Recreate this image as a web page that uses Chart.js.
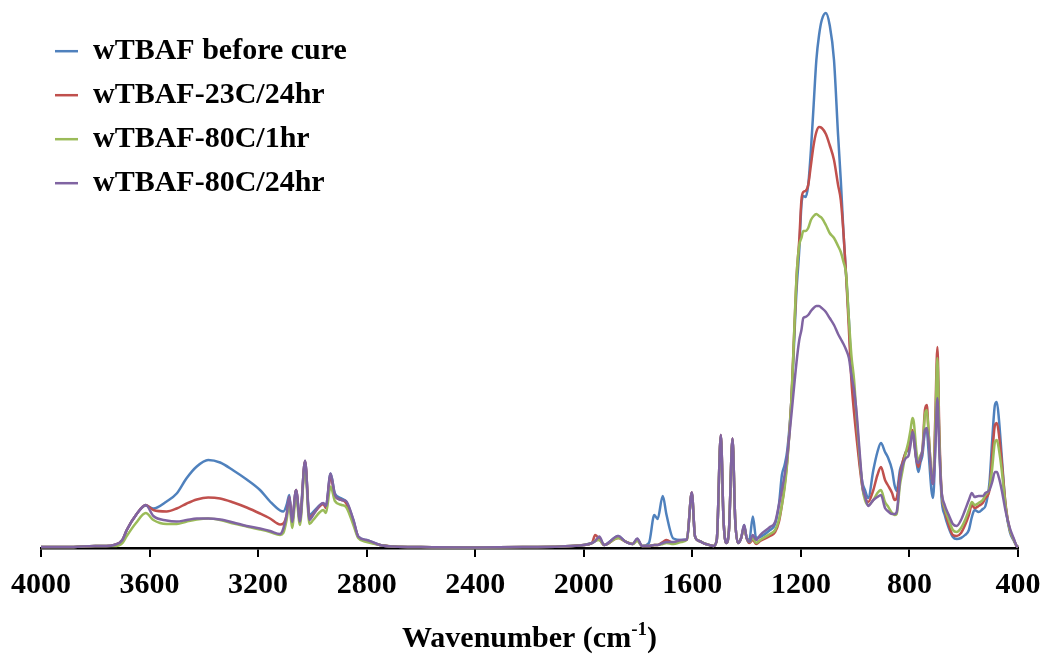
<!DOCTYPE html>
<html>
<head>
<meta charset="utf-8">
<script src="https://cdn.jsdelivr.net/npm/chart.js@4.4.1/dist/chart.umd.min.js"></script>
<style>
    body { margin: 0; background: #fff; }
    #wrap { width: 1045px; height: 656px; }
</style>
</head>
<body>
<div id="wrap"><canvas id="ftirChart"></canvas></div>
<script>
// wavenumber grid (cm-1)
const wavenumbers = [
    4000, 3900, 3800, 3760, 3730, 3700, 3684, 3650, 3614, 3586,
    3537, 3500, 3463, 3426, 3384, 3340, 3291, 3242, 3193, 3156,
    3119, 3107, 3095, 3085, 3075, 3060, 3046, 3027, 3011, 2997,
    2972, 2960, 2950, 2933, 2917, 2892, 2876, 2849, 2831, 2800,
    2751, 2700, 2600, 2400, 2200, 2087, 2000, 1970, 1958, 1943,
    1925, 1873, 1850, 1820, 1803, 1785, 1760, 1740, 1728, 1709,
    1695, 1670, 1640, 1620, 1602, 1590, 1575, 1550, 1522, 1510,
    1495, 1485, 1475, 1465, 1452, 1442, 1432, 1420, 1409, 1400,
    1390, 1377, 1365, 1350, 1314, 1295, 1281, 1270, 1260, 1250,
    1235, 1216, 1206, 1198, 1191, 1183, 1173, 1163, 1153, 1143,
    1133, 1123, 1108, 1094, 1078, 1063, 1053, 1043, 1033, 1023,
    1014, 1004, 994, 984, 973, 964, 952, 933, 918, 905,
    890, 880, 864, 855, 847, 835, 825, 813, 804, 796,
    789, 784, 774, 767, 759, 752, 743, 736, 730, 719,
    713, 705, 697, 690, 682, 670, 655, 640, 626, 610,
    595, 581, 570, 560, 545, 530, 520, 505, 495, 485,
    478, 470, 460, 445, 430, 415, 405, 400
];

const beforeCure = [
    0.002, 0.002, 0.004, 0.004, 0.006, 0.016, 0.036, 0.066, 0.085, 0.079,
    0.093, 0.109, 0.140, 0.163, 0.176, 0.171, 0.155, 0.137, 0.116, 0.093,
    0.075, 0.073, 0.086, 0.106, 0.056, 0.116, 0.064, 0.173, 0.066, 0.072,
    0.086, 0.089, 0.084, 0.149, 0.109, 0.099, 0.093, 0.056, 0.023, 0.016,
    0.006, 0.003, 0.002, 0.001, 0.002, 0.003, 0.006, 0.010, 0.014, 0.020,
    0.006, 0.024, 0.014, 0.008, 0.018, 0.004, 0.010, 0.066, 0.058, 0.104,
    0.066, 0.019, 0.016, 0.017, 0.111, 0.023, 0.014, 0.008, 0.004, 0.016,
    0.226, 0.056, 0.010, 0.036, 0.219, 0.056, 0.010, 0.020, 0.046, 0.020,
    0.016, 0.063, 0.020, 0.022, 0.036, 0.048, 0.086, 0.146, 0.166, 0.196,
    0.296, 0.516, 0.596, 0.686, 0.704, 0.702, 0.726, 0.796, 0.886, 0.976,
    1.026, 1.056, 1.070, 1.046, 0.976, 0.826, 0.736, 0.630, 0.542, 0.456,
    0.356, 0.296, 0.236, 0.176, 0.130, 0.116, 0.100, 0.156, 0.192, 0.210,
    0.192, 0.182, 0.156, 0.126, 0.114, 0.156, 0.172, 0.192, 0.196, 0.216,
    0.230, 0.216, 0.172, 0.152, 0.172, 0.186, 0.232, 0.236, 0.196, 0.116,
    0.100, 0.196, 0.356, 0.216, 0.102, 0.066, 0.040, 0.022, 0.018, 0.020,
    0.026, 0.036, 0.062, 0.076, 0.072, 0.078, 0.084, 0.132, 0.216, 0.286,
    0.292, 0.256, 0.184, 0.080, 0.032, 0.014, 0.004, 0.002
];

const cure23C24hr = [
    0.002, 0.002, 0.004, 0.004, 0.006, 0.016, 0.036, 0.066, 0.086, 0.076,
    0.073, 0.079, 0.089, 0.097, 0.101, 0.099, 0.091, 0.081, 0.069, 0.059,
    0.047, 0.049, 0.066, 0.102, 0.052, 0.116, 0.056, 0.174, 0.060, 0.068,
    0.084, 0.088, 0.080, 0.144, 0.104, 0.096, 0.090, 0.052, 0.022, 0.014,
    0.006, 0.003, 0.002, 0.001, 0.002, 0.003, 0.006, 0.010, 0.026, 0.018,
    0.006, 0.020, 0.014, 0.008, 0.016, 0.004, 0.004, 0.006, 0.006, 0.012,
    0.016, 0.010, 0.014, 0.017, 0.111, 0.023, 0.014, 0.008, 0.004, 0.016,
    0.226, 0.056, 0.010, 0.036, 0.219, 0.056, 0.010, 0.020, 0.042, 0.020,
    0.010, 0.016, 0.008, 0.014, 0.024, 0.032, 0.052, 0.086, 0.126, 0.176,
    0.296, 0.542, 0.616, 0.696, 0.712, 0.714, 0.726, 0.766, 0.806, 0.832,
    0.842, 0.840, 0.828, 0.806, 0.776, 0.726, 0.696, 0.630, 0.542, 0.436,
    0.336, 0.270, 0.216, 0.166, 0.120, 0.102, 0.092, 0.116, 0.146, 0.162,
    0.136, 0.126, 0.110, 0.096, 0.100, 0.146, 0.172, 0.192, 0.200, 0.216,
    0.236, 0.220, 0.176, 0.162, 0.180, 0.196, 0.276, 0.286, 0.236, 0.146,
    0.128, 0.256, 0.402, 0.236, 0.116, 0.076, 0.046, 0.026, 0.024, 0.030,
    0.046, 0.066, 0.086, 0.080, 0.084, 0.090, 0.100, 0.116, 0.186, 0.246,
    0.250, 0.226, 0.172, 0.084, 0.036, 0.016, 0.004, 0.002
];

const cure80C1hr = [
    0.002, 0.002, 0.004, 0.004, 0.004, 0.010, 0.024, 0.050, 0.070, 0.056,
    0.048, 0.048, 0.053, 0.057, 0.059, 0.056, 0.049, 0.043, 0.037, 0.032,
    0.026, 0.030, 0.056, 0.090, 0.040, 0.104, 0.046, 0.164, 0.048, 0.056,
    0.072, 0.076, 0.070, 0.123, 0.094, 0.086, 0.082, 0.046, 0.020, 0.012,
    0.006, 0.003, 0.002, 0.001, 0.002, 0.003, 0.006, 0.010, 0.014, 0.016,
    0.006, 0.020, 0.014, 0.008, 0.014, 0.004, 0.004, 0.006, 0.006, 0.008,
    0.010, 0.008, 0.012, 0.017, 0.108, 0.023, 0.014, 0.008, 0.004, 0.016,
    0.222, 0.056, 0.010, 0.036, 0.216, 0.056, 0.010, 0.020, 0.042, 0.020,
    0.012, 0.020, 0.010, 0.016, 0.028, 0.036, 0.056, 0.086, 0.120, 0.172,
    0.296, 0.542, 0.606, 0.620, 0.634, 0.634, 0.640, 0.656, 0.664, 0.668,
    0.664, 0.660, 0.646, 0.630, 0.620, 0.604, 0.592, 0.572, 0.546, 0.456,
    0.386, 0.336, 0.256, 0.186, 0.120, 0.096, 0.086, 0.096, 0.110, 0.116,
    0.092, 0.084, 0.070, 0.066, 0.068, 0.126, 0.156, 0.192, 0.212, 0.236,
    0.260, 0.252, 0.192, 0.172, 0.186, 0.196, 0.266, 0.276, 0.236, 0.146,
    0.132, 0.236, 0.380, 0.216, 0.116, 0.080, 0.056, 0.036, 0.032, 0.040,
    0.056, 0.076, 0.092, 0.086, 0.090, 0.096, 0.106, 0.120, 0.160, 0.212,
    0.216, 0.196, 0.156, 0.080, 0.036, 0.016, 0.004, 0.002
];

const cure80C24hr = [
    0.002, 0.002, 0.004, 0.004, 0.006, 0.016, 0.036, 0.066, 0.086, 0.064,
    0.055, 0.053, 0.056, 0.059, 0.059, 0.057, 0.051, 0.044, 0.039, 0.034,
    0.028, 0.039, 0.066, 0.103, 0.052, 0.116, 0.053, 0.175, 0.056, 0.066,
    0.086, 0.090, 0.084, 0.149, 0.106, 0.096, 0.094, 0.056, 0.023, 0.016,
    0.006, 0.003, 0.002, 0.001, 0.002, 0.003, 0.006, 0.010, 0.014, 0.023,
    0.006, 0.024, 0.014, 0.008, 0.019, 0.004, 0.004, 0.006, 0.006, 0.010,
    0.012, 0.012, 0.016, 0.017, 0.111, 0.023, 0.014, 0.008, 0.004, 0.016,
    0.226, 0.056, 0.010, 0.036, 0.219, 0.056, 0.010, 0.020, 0.046, 0.020,
    0.012, 0.026, 0.016, 0.026, 0.042, 0.052, 0.086, 0.116, 0.146, 0.186,
    0.266, 0.372, 0.416, 0.436, 0.460, 0.462, 0.466, 0.474, 0.480, 0.484,
    0.484, 0.480, 0.472, 0.460, 0.446, 0.428, 0.418, 0.408, 0.396, 0.380,
    0.346, 0.316, 0.266, 0.196, 0.124, 0.104, 0.084, 0.096, 0.102, 0.106,
    0.080, 0.074, 0.068, 0.068, 0.072, 0.136, 0.166, 0.180, 0.184, 0.206,
    0.232, 0.224, 0.176, 0.170, 0.180, 0.196, 0.236, 0.240, 0.216, 0.146,
    0.128, 0.196, 0.300, 0.196, 0.116, 0.086, 0.066, 0.048, 0.044, 0.056,
    0.076, 0.096, 0.110, 0.102, 0.104, 0.104, 0.110, 0.116, 0.132, 0.152,
    0.152, 0.140, 0.116, 0.072, 0.040, 0.018, 0.004, 0.002
];

const seriesNames = ['wTBAF before cure', 'wTBAF-23C/24hr', 'wTBAF-80C/1hr', 'wTBAF-80C/24hr'];
const seriesColors = ['#4F81BD', '#C0504D', '#9BBB59', '#8064A2'];
const tickValues = [4000, 3600, 3200, 2800, 2400, 2000, 1600, 1200, 800, 400];

const fontFamily = '"Liberation Serif", "Times New Roman", serif';

function toPoints(values) {
    return wavenumbers.map((wn, i) => ({ x: wn, y: values[i] }));
}

const allSeries = [beforeCure, cure23C24hr, cure80C1hr, cure80C24hr];
const datasets = allSeries.map((values, i) => ({
    label: seriesNames[i],
    data: toPoints(values),
    borderColor: seriesColors[i],
    backgroundColor: seriesColors[i],
    borderWidth: 2.5,
    pointRadius: 0,
    cubicInterpolationMode: 'monotone',
    clip: false,
    order: allSeries.length - 1 - i   // last series drawn on top
}));

// x axis title with a real superscript
const axisTitlePlugin = {
    id: 'axisTitle',
    afterDraw(chart) {
        const ctx = chart.ctx;
        const area = chart.chartArea;
        const main = 'Wavenumber (cm';
        const sup = '-1';
        const close = ')';
        ctx.save();
        ctx.fillStyle = '#000';
        ctx.textBaseline = 'alphabetic';
        ctx.textAlign = 'left';
        ctx.font = 'bold 30px ' + fontFamily;
        const wMain = ctx.measureText(main).width;
        const wClose = ctx.measureText(close).width;
        ctx.font = 'bold 19px ' + fontFamily;
        const wSup = ctx.measureText(sup).width;
        let x = (area.left + area.right) / 2 - (wMain + wSup + wClose) / 2;
        const y = 647;
        ctx.font = 'bold 30px ' + fontFamily;
        ctx.fillText(main, x, y);
        x += wMain;
        ctx.font = 'bold 19px ' + fontFamily;
        ctx.fillText(sup, x, y - 12);
        x += wSup;
        ctx.font = 'bold 30px ' + fontFamily;
        ctx.fillText(close, x, y);
        ctx.restore();
    }
};

const chart = new Chart(document.getElementById('ftirChart').getContext('2d'), {
    type: 'line',
    data: { datasets: datasets },
    options: {
        responsive: true,
        maintainAspectRatio: false,
        animation: false,
        layout: {
            padding: { top: 19, left: 41, right: 27, bottom: 43 }
        },
        plugins: {
            legend: {
                position: 'chartArea',
                align: 'start',
                // empty title only pushes the list down inside the plot
                title: { display: true, text: '', font: { size: 1 }, padding: { top: 21, bottom: 0 } },
                labels: {
                    usePointStyle: true,
                    pointStyle: 'line',
                    pointStyleWidth: 23,
                    padding: 14,
                    color: '#000',
                    font: { family: fontFamily, size: 30, weight: 'bold' },
                    sort: (a, b) => a.datasetIndex - b.datasetIndex
                }
            },
            tooltip: { enabled: false }
        },
        scales: {
            x: {
                type: 'linear',
                reverse: true,
                min: 400,
                max: 4000,
                afterBuildTicks: axis => {
                    axis.ticks = tickValues.map(v => ({ value: v }));
                },
                afterFit: axis => {
                    // plot edges come from layout.padding, not from label widths
                    axis.paddingLeft = 0;
                    axis.paddingRight = 0;
                },
                grid: {
                    drawOnChartArea: false,
                    drawTicks: true,
                    tickLength: 9,
                    color: '#000',
                    lineWidth: 2
                },
                border: { display: true, color: '#000', width: 2.5 },
                ticks: {
                    color: '#000',
                    padding: 10,
                    maxRotation: 0,
                    autoSkip: false,
                    font: { family: fontFamily, size: 30, weight: 'bold' },
                    callback: v => String(v)
                }
            },
            y: {
                display: false,
                min: 0,
                max: 1.058
            }
        }
    },
    plugins: [axisTitlePlugin]
});
</script>
</body>
</html>
